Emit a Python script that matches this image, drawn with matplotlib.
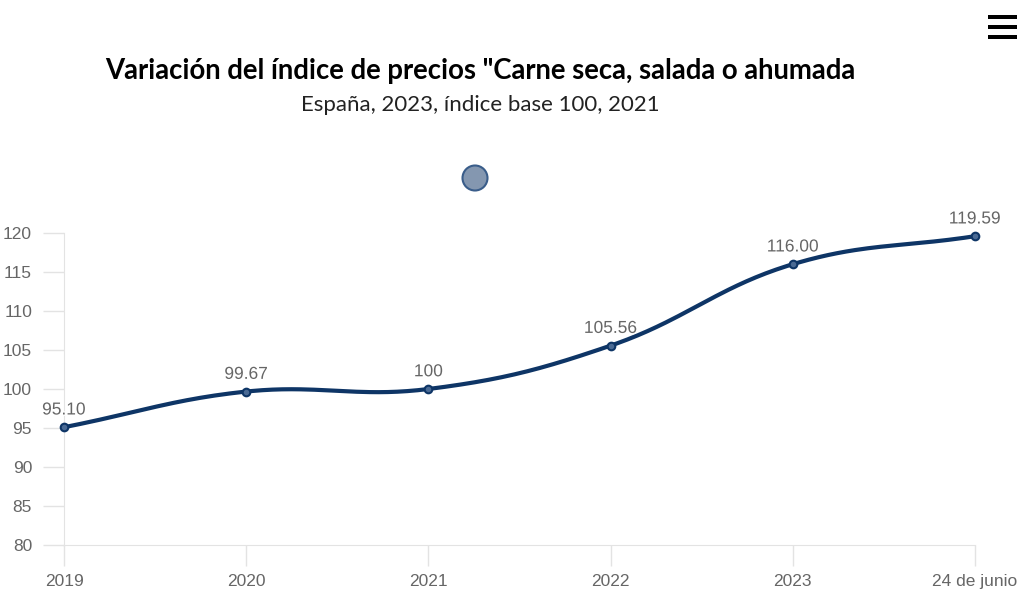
import matplotlib
matplotlib.use('Agg')
import matplotlib.pyplot as plt
import matplotlib.patheffects as pe
from matplotlib.patches import Ellipse, Rectangle
import numpy as np

# Data
categories = ['2019', '2020', '2021', '2022', '2023', '24 de junio']
values = [95.10, 99.67, 100.00, 105.56, 116.00, 119.59]
value_labels = ['95.10', '99.67', '100', '105.56', '116.00', '119.59']
y_ticks = [80, 85, 90, 95, 100, 105, 110, 115, 120]

title = 'Variación del índice de precios "Carne seca, salada o ahumada'
subtitle = 'España, 2023, índice base 100, 2021'

LINE = '#0e3566'
GRID = '#e3e3e3'
TXT = '#666666'
W, H = 1022, 590


def spline_curve(xs, ys, tension=0.4, steps=40):
    # Chart.js-style bezier smoothing, computed in pixel space
    n = len(xs)
    cps = []
    for i in range(n):
        p = np.array([xs[i], ys[i]])
        prev = np.array([xs[i - 1], ys[i - 1]]) if i > 0 else p
        nxt = np.array([xs[i + 1], ys[i + 1]]) if i < n - 1 else p
        d01 = np.hypot(*(p - prev))
        d12 = np.hypot(*(nxt - p))
        tot = d01 + d12
        s01 = d01 / tot if tot else 0
        s12 = d12 / tot if tot else 0
        cps.append((p - tension * s01 * (nxt - prev), p + tension * s12 * (nxt - prev)))
    out_x, out_y = [], []
    t = np.linspace(0, 1, steps)
    for i in range(n - 1):
        p0 = np.array([xs[i], ys[i]])
        p3 = np.array([xs[i + 1], ys[i + 1]])
        p1 = cps[i][1]
        p2 = cps[i + 1][0]
        pts = ((1 - t) ** 3)[:, None] * p0 + (3 * (1 - t) ** 2 * t)[:, None] * p1 \
            + (3 * (1 - t) * t ** 2)[:, None] * p2 + (t ** 3)[:, None] * p3
        out_x.extend(pts[:, 0])
        out_y.extend(pts[:, 1])
    return np.array(out_x), np.array(out_y)


fig = plt.figure(figsize=(W / 100, H / 100), dpi=100)
ax = fig.add_axes([64 / W, 1 - 545 / H, (975 - 64) / W, (545 - 233) / H])

x = np.arange(len(categories))
ax.set_xlim(0, len(categories) - 1)
ax.set_ylim(80, 120)

# smoothing in pixel units
px_per_x = 182.2
px_per_y = 7.8
sx, sy = spline_curve(x * px_per_x, np.array(values) * px_per_y)
ax.plot(sx / px_per_x, sy / px_per_y, color=LINE, lw=3, clip_on=False, zorder=3,
        solid_capstyle='round')
ax.scatter(x, values, s=30, color='#4a6a94', edgecolor=LINE, linewidth=1.5,
           zorder=4, clip_on=False)

for xi, v, lab in zip(x, values, value_labels):
    ax.annotate(lab, (xi, v), xytext=(0, 7), textcoords='offset points',
                ha='center', va='bottom', fontsize=12.5, color=TXT,
                family='Liberation Sans', zorder=5,
                path_effects=[pe.withStroke(linewidth=2, foreground='white')])

for s in ['top', 'right']:
    ax.spines[s].set_visible(False)
ax.spines['left'].set_color(GRID)
ax.spines['bottom'].set_color(GRID)
ax.spines['left'].set_bounds(80, 120)

ax.set_yticks(y_ticks)
ax.set_xticks(x)
ax.set_xticklabels(categories)
ax.tick_params(axis='both', colors=GRID, length=15, width=1, labelsize=12.5,
               labelcolor=TXT)
ax.tick_params(axis='y', pad=8)
ax.tick_params(axis='x', pad=6)
for lab in ax.get_xticklabels() + ax.get_yticklabels():
    lab.set_family('Liberation Sans')

# Titles
fig.text(480 / W, 1 - 71 / H, title, ha='center', va='center',
         fontsize=19.8, fontweight='bold', family='Lato', color='black')
fig.text(480 / W, 1 - 105 / H, subtitle, ha='center', va='center',
         fontsize=16, family='Lato', color='#222222')

# Legend marker
fig.patches.append(Ellipse((475 / W, 1 - 178 / H), 25 / W, 25 / H,
                           transform=fig.transFigure, facecolor='#8497b0',
                           edgecolor='#3a5d8a', linewidth=1.5))

# Menu icon
for yy in [17, 27, 37]:
    fig.patches.append(Rectangle((988 / W, 1 - (yy + 1.5) / H), 29 / W, 3.5 / H,
                                 transform=fig.transFigure, facecolor='black',
                                 edgecolor='none'))

fig.savefig('out.png', dpi=100)
